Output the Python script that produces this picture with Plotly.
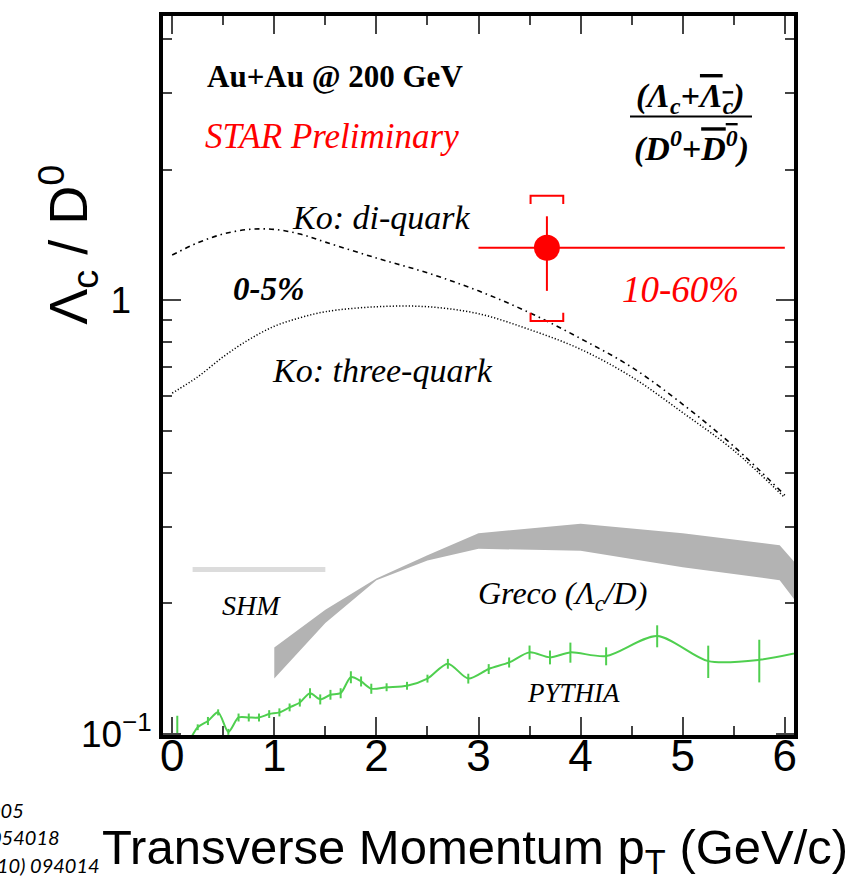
import plotly.graph_objects as go

# ---------------- data ----------------
# Ko coalescence model curves (0-5%)
ko_pt = [0, 0.25, 0.5, 0.75, 1.0, 1.25, 1.5, 2.0, 2.5, 3.0, 3.5, 4.0, 4.5, 5.0, 5.5, 6.0]
ko_diquark = [1.27, 1.355, 1.42, 1.455, 1.455, 1.42, 1.36, 1.25, 1.155, 1.05, 0.935, 0.815, 0.70, 0.575, 0.46, 0.355]
ko_threequark = [0.61, 0.665, 0.74, 0.81, 0.87, 0.91, 0.94, 0.965, 0.965, 0.93, 0.855, 0.77, 0.665, 0.55, 0.45, 0.35]

# Greco band (Lambda_c / D)
greco_pt = [1.0, 1.5, 2.0, 2.5, 3.0, 4.0, 5.0, 5.95, 6.1]
greco_hi = [0.158, 0.193, 0.228, 0.258, 0.290, 0.305, 0.290, 0.272, 0.248]
greco_lo = [0.134, 0.180, 0.226, 0.251, 0.267, 0.264, 0.242, 0.226, 0.203]

# SHM value
shm_pt = [0.2, 1.5]
shm_ratio = [0.239, 0.239]

# PYTHIA
pythia_pt = [0.05, 0.15, 0.25, 0.35, 0.45, 0.55, 0.65, 0.75, 0.85, 0.95, 1.05, 1.15, 1.25,
             1.35, 1.45, 1.55, 1.65, 1.75, 1.85, 1.95, 2.1, 2.3, 2.5, 2.7, 2.9, 3.1, 3.3,
             3.5, 3.7, 3.9, 4.25, 4.75, 5.25, 5.75, 6.25]
pythia_ratio = [0.098, 0.096, 0.1035, 0.107, 0.112, 0.101, 0.109, 0.109, 0.109, 0.111, 0.112,
                0.115, 0.118, 0.124, 0.120, 0.123, 0.124, 0.135, 0.132, 0.127, 0.128, 0.129,
                0.134, 0.145, 0.134, 0.141, 0.146, 0.154, 0.150, 0.154, 0.151, 0.168, 0.147,
                0.148, 0.156]
pythia_err = [0.012, 0.002, 0.0016, 0.0023, 0.0018, 0.0016, 0.0023, 0.0023, 0.0023, 0.0023,
              0.0024, 0.0024, 0.0025, 0.0033, 0.0032, 0.0032, 0.0033, 0.0043, 0.0035, 0.0034,
              0.0027, 0.0027, 0.0028, 0.0038, 0.0035, 0.0037, 0.0039, 0.0057, 0.0055, 0.0082,
              0.0072, 0.0098, 0.0126, 0.0167, 0.0]

# STAR preliminary, 10-60%
star_pt = [3.67]
star_ratio = [1.32]
star_bin_lo = [3.0]
star_bin_hi = [6.0]
star_stat_up = [0.24]
star_stat_dn = [0.27]
star_sys_up = [0.42]
star_sys_dn = [0.425]

# axis ticks
x_ticks = [0, 1, 2, 3, 4, 5, 6]
x_minor = [0.5, 1.5, 2.5, 3.5, 4.5, 5.5]
y_ticks = [0.1, 1]
y_ticktext = ["10<sup>\u22121</sup>", "1\u2007"]
y_minor = [0.2, 0.3, 0.4, 0.5, 0.6, 0.7, 0.8, 0.9, 2, 3, 4]

# ---------------- figure ----------------
W, H = 865, 880
L, R, T, B = 163, 794, 12, 735

def px(xp):
    return (xp - L) / (R - L)

def py(yp):
    return (B - yp) / (B - T)

SERIF = "Liberation Serif, Times New Roman, Times, serif"
SANS = "Liberation Sans, Arial, Helvetica, sans-serif"
RED = "#ff0000"
GREEN = "#4fcf4f"

fig = go.Figure()

# Greco band
fig.add_trace(go.Scatter(
    x=greco_pt + greco_pt[::-1],
    y=greco_hi + greco_lo[::-1],
    fill="toself", fillcolor="#b3b3b3", mode="lines",
    line=dict(width=0, color="#b3b3b3"), hoverinfo="skip", showlegend=False))

# SHM
fig.add_trace(go.Scatter(
    x=shm_pt, y=shm_ratio, mode="lines",
    line=dict(color="#dcdcdc", width=5), showlegend=False))

# Ko curves
fig.add_trace(go.Scatter(
    x=ko_pt, y=ko_diquark, mode="lines",
    line=dict(color="black", width=1.6, dash="5px,4px,1.5px,4px", shape="spline"),
    showlegend=False))
fig.add_trace(go.Scatter(
    x=ko_pt, y=ko_threequark, mode="lines",
    line=dict(color="black", width=1.5, dash="1.2px,2px", shape="spline"),
    showlegend=False))

# PYTHIA
fig.add_trace(go.Scatter(
    x=pythia_pt, y=pythia_ratio, mode="lines",
    line=dict(color=GREEN, width=2, shape="spline", smoothing=0.8),
    error_y=dict(type="data", array=pythia_err, color=GREEN, thickness=2, width=0),
    showlegend=False))

# STAR systematic brackets
w = 0.16
f = 1.045
c = star_pt[0]
top = star_ratio[0] + star_sys_up[0]
bot = star_ratio[0] - star_sys_dn[0]
fig.add_trace(go.Scatter(
    x=[c - w, c - w, c + w, c + w, None, c - w, c - w, c + w, c + w],
    y=[top / f, top, top, top / f, None, bot * f, bot, bot, bot * f],
    mode="lines", line=dict(color=RED, width=2), showlegend=False))

# STAR point with stat errors and pT bin
fig.add_trace(go.Scatter(
    x=star_pt, y=star_ratio, mode="markers",
    marker=dict(color=RED, size=26, symbol="circle"),
    error_y=dict(type="data", array=star_stat_up, arrayminus=star_stat_dn,
                 color=RED, thickness=2, width=0),
    error_x=dict(type="data",
                 array=[star_bin_hi[0] - star_pt[0]],
                 arrayminus=[star_pt[0] - star_bin_lo[0]],
                 color=RED, thickness=2, width=0),
    showlegend=False))

ann = []

def text(xp, yp, s, size, color="black", family=SERIF, anchor="left", **kw):
    ann.append(dict(x=px(xp), y=py(yp), xref="paper", yref="paper", text=s,
                    showarrow=False, xanchor=anchor, yanchor="middle",
                    font=dict(family=family, size=size, color=color), **kw))

text(205, 73, "<b>Au+Au @ 200 GeV</b>", 31)
text(203, 133, "<i>STAR Preliminary</i>", 35, color=RED)
text(690, 94, "<b><i>(\u039b<sub>c</sub>+<span style='text-decoration:overline'>\u039b<sub>c</sub></span>)</i></b>",
     34, anchor="center")
text(691, 143, "<b><i>(D<sup>0</sup>+<span style='text-decoration:overline'>D<sup>0</sup></span>)</i></b>",
     34, anchor="center")
text(290, 215, "<i>Ko: di-quark</i>", 34)
text(231, 287, "<b><i>0-5%</i></b>", 33)
text(620, 287, "<i>10-60%</i>", 37, color=RED)
text(270, 368, "<i>Ko: three-quark</i>", 34)
text(220, 605, "<i>SHM</i>", 28)
text(476, 595, "<i>Greco (\u039b<sub>c</sub>/D)</i>", 32)
text(525, 693, "<i>PYTHIA</i>", 27)

# axis titles
ann.append(dict(x=px(68), y=py(242), xref="paper", yref="paper",
                text="\u039b<sub>c</sub> / D<sup>0</sup>", textangle=-90, showarrow=False,
                xanchor="center", yanchor="middle",
                font=dict(family=SANS, size=54, color="black")))
ann.append(dict(x=px(475), y=py(851), xref="paper", yref="paper",
                text="Transverse Momentum p<sub>T</sub> (GeV/c)", showarrow=False,
                xanchor="center", yanchor="middle",
                font=dict(family=SANS, size=49, color="black")))

# reference fragments at the lower left
for xr, yr, s in [(26, 810, "005"), (62, 838, "054018"), (102, 866, "10) 094014")]:
    ann.append(dict(x=px(xr), y=py(yr), xref="paper", yref="paper", text="<i>" + s + "</i>",
                    showarrow=False, xanchor="right", yanchor="middle",
                    font=dict(family="Lato", size=20, color="black")))

fig.update_layout(
    width=W, height=H,
    margin=dict(l=L, r=W - R, t=T, b=H - B, pad=0),
    paper_bgcolor="white", plot_bgcolor="white",
    annotations=ann,
    shapes=[dict(type="line", xref="paper", yref="paper",
                 x0=px(630), x1=px(752), y0=py(113), y1=py(113),
                 line=dict(color="black", width=2))],
)

fig.update_xaxes(
    range=[-0.09, 6.09], showgrid=False, zeroline=False,
    showline=True, linewidth=4, linecolor="black", mirror="allticks",
    ticks="inside", ticklen=18, tickwidth=1.5, tickcolor="#444",
    tickmode="array", tickvals=x_ticks, ticklabelstandoff=-21,
    tickfont=dict(family=SANS, size=44, color="black"),
    minor=dict(ticks="inside", ticklen=9, tickwidth=1.5, tickcolor="#444",
               tickmode="array", tickvals=x_minor, showgrid=False),
)
fig.update_yaxes(
    type="log", range=[-1.003, 0.655], showgrid=False, zeroline=False,
    showline=True, linewidth=4, linecolor="black", mirror="allticks",
    ticks="inside", ticklen=18, tickwidth=1.5, tickcolor="#444",
    tickmode="array", tickvals=y_ticks, ticktext=y_ticktext,
    tickfont=dict(family=SANS, size=37, color="black"),
    minor=dict(ticks="inside", ticklen=9, tickwidth=1.5, tickcolor="#444",
               tickmode="array", tickvals=y_minor, showgrid=False),
)

fig.write_html("out.html")
